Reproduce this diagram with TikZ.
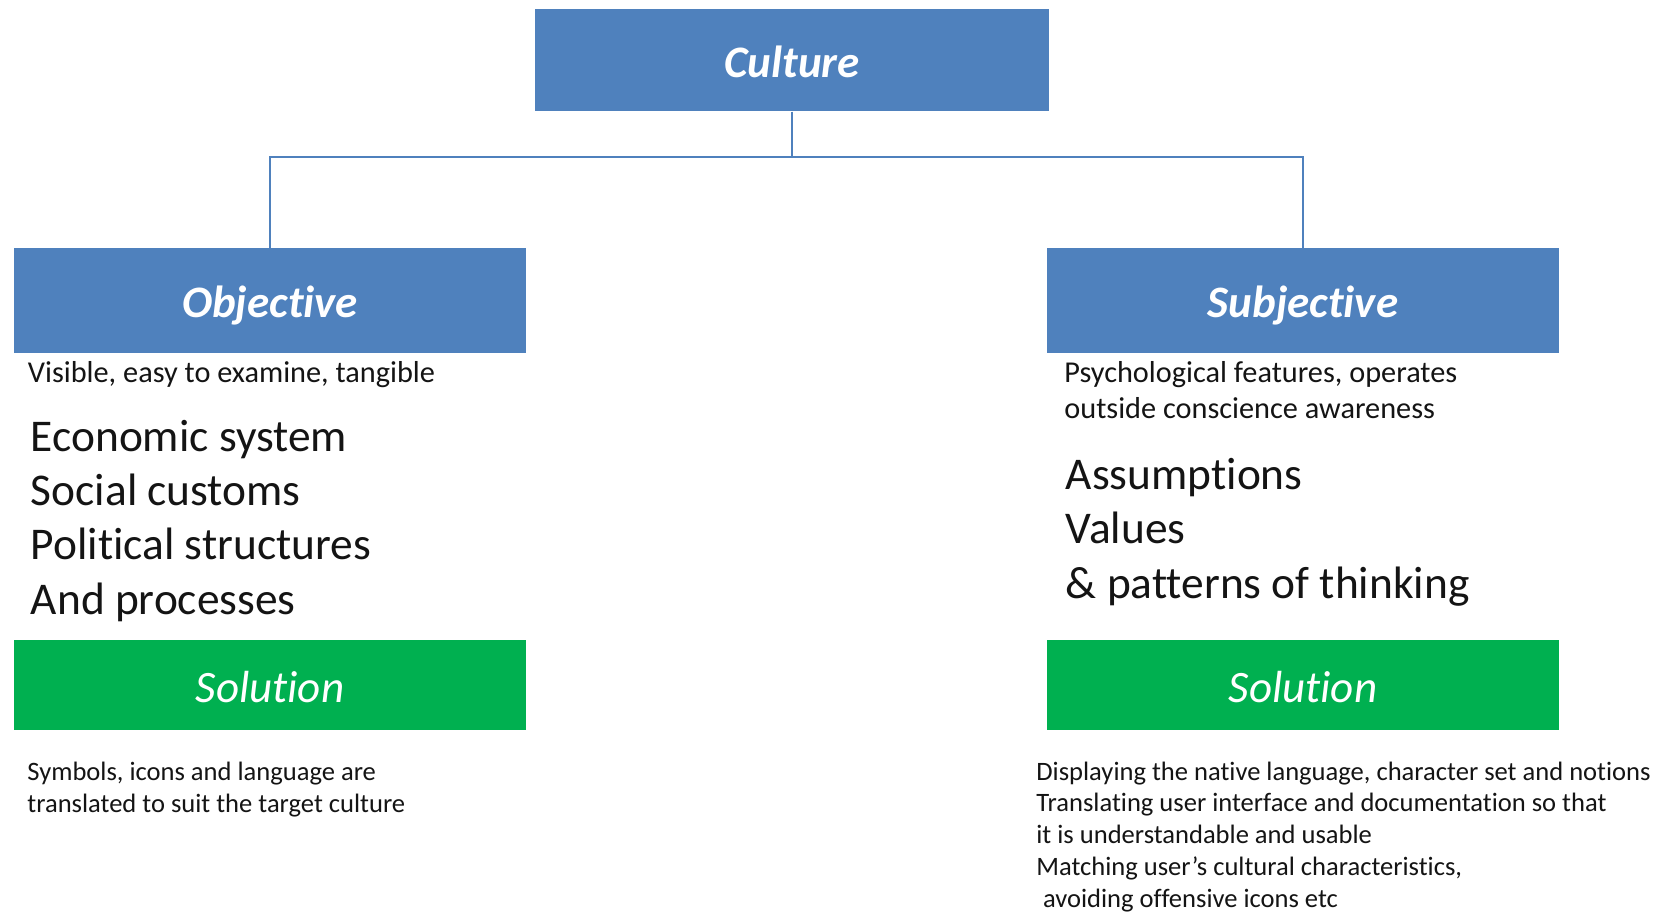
\documentclass[tikz,border=0pt]{standalone}
\usepackage{fontspec}
\setmainfont{Carlito}[Ligatures={NoCommon,NoContextual}]
\definecolor{boxblue}{RGB}{79,129,189}
\definecolor{boxgreen}{RGB}{0,176,80}
\definecolor{linkblue}{RGB}{79,129,189}
\definecolor{txt}{RGB}{20,20,20}
\begin{document}
\begin{tikzpicture}[x=0.5pt,y=-0.5pt,
  headbox/.style={fill=boxblue,draw=none,inner sep=0pt,text=white,
    font=\fontsize{22.5pt}{26pt}\selectfont\bfseries\itshape,
    text height=17.3pt,text depth=0pt},
  solbox/.style={fill=boxgreen,draw=none,inner sep=0pt,text=white,
    font=\fontsize{22.5pt}{26pt}\selectfont\itshape,
    text height=17.3pt,text depth=0pt},
  small/.style={anchor=base west,inner sep=0pt,text=txt,font=\fontsize{15.15pt}{18pt}\selectfont},
  big/.style={anchor=base west,inner sep=0pt,text=txt,font=\fontsize{22.7pt}{27pt}\selectfont},
  note/.style={anchor=base west,inner sep=0pt,text=txt,font=\fontsize{13.28pt}{16pt}\selectfont},
  link/.style={draw=linkblue,line width=1.1pt}
]
\useasboundingbox (0,0) rectangle (1661,912);
\fill[white] (0,0) rectangle (1661,912);

% boxes
\node[headbox,minimum width=257pt,minimum height=51.25pt] (culture) at (792,60) {Culture};
\node[headbox,minimum width=256.4pt,minimum height=52.3pt] (obj) at (270,300.3) {Objective};
\node[headbox,minimum width=256.4pt,minimum height=52.3pt] (subj) at (1303,300.3) {Subjective};
\node[solbox,minimum width=256.4pt,minimum height=45pt] (solL) at (270,685) {Solution};
\node[solbox,minimum width=256.4pt,minimum height=45pt] (solR) at (1303,685) {Solution};

% connectors
\coordinate (j) at (792,157);
\draw[link] (culture.south) -- (j);
\draw[link] (j) -| (obj.north);
\draw[link] (j) -| (subj.north);

% left texts
\node[small] (vis) at (27.5,382.7) {Visible, easy to examine, tangible};
\node[big] (o1) at (30.5,451) {Economic system};
\node[big] (o2) at (30.5,505.4) {Social customs};
\node[big] (o3) at (30.5,559.8) {Political structures};
\node[big] (o4) at (30.5,614.2) {And processes};
\node[note] (l1) at (27,780) {Symbols, icons and language are};
\node[note] (l2) at (27,812.5) {translated to suit the target culture};

% right texts
\node[small] (psy1) at (1064,382.7) {Psychological features, operates};
\node[small] (psy2) at (1064,418.7) {outside conscience awareness};
\node[big] (s1) at (1065.5,489.5) {Assumptions};
\node[big] (s2) at (1065.5,543.9) {Values};
\node[big] (s3) at (1065.5,598.3) {\& patterns of thinking};
\node[note] (r1) at (1036,780) {Displaying the native language, character set and notions};
\node[note] (r2) at (1036,811.8) {Translating user interface and documentation so that};
\node[note] (r3) at (1036,843.6) {it is understandable and usable};
\node[note] (r4) at (1036,875.4) {Matching user’s cultural characteristics,};
\node[note] (r5) at (1036,907.2) {\hspace{0.25em}avoiding offensive icons etc};
\end{tikzpicture}
\end{document}
